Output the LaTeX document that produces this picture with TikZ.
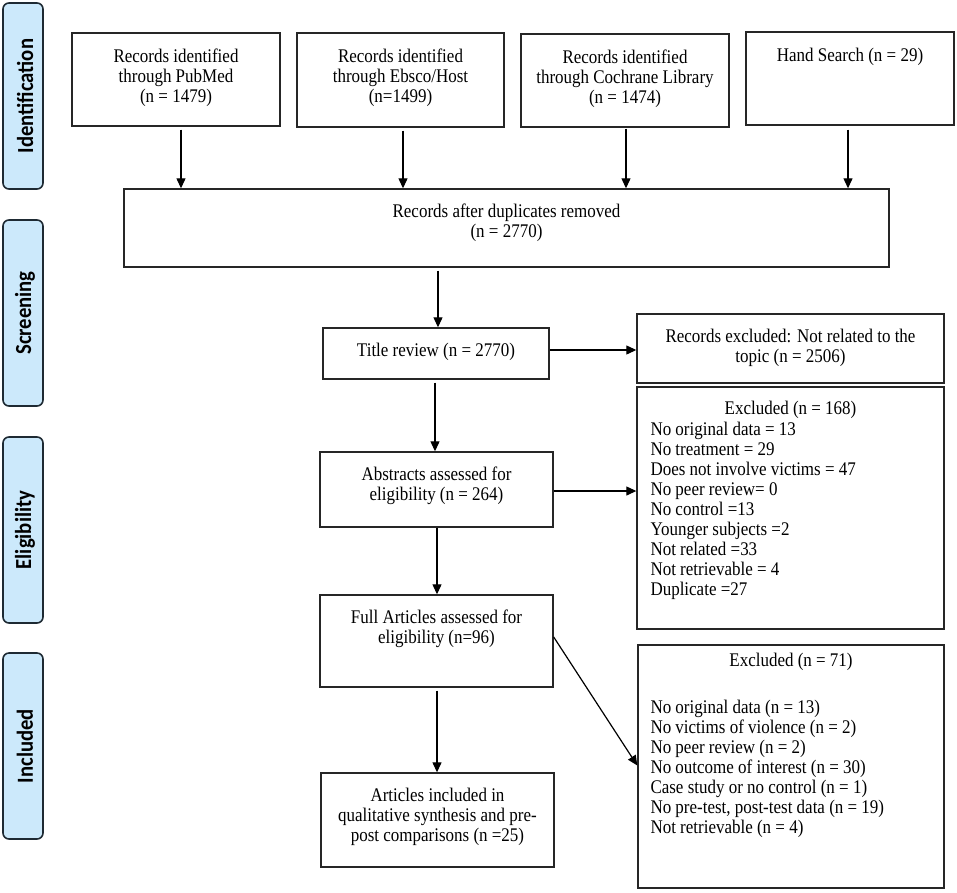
\documentclass[tikz,border=0pt]{standalone}
\usepackage{fontspec}
\setmainfont{Liberation Serif}
\newfontfamily\reffont[FakeStretch=0.88]{Liberation Serif}
\newfontfamily\sidefont[FakeStretch=0.9]{Carlito}
\usetikzlibrary{arrows.meta}
\definecolor{sideblue}{HTML}{CCE9FB}
\definecolor{sideedge}{HTML}{1E2A33}
\tikzset{
  box/.style={draw=black!85, line width=1.4pt, inner sep=0pt},
  txt/.style={inner sep=0pt, align=center, font=\reffont\fontsize{19.3}{20}\selectfont},
  ltxt/.style={inner sep=0pt, align=left, font=\reffont\fontsize{19.3}{20}\selectfont},
  side/.style={draw=sideedge, fill=sideblue, line width=1.6pt, rounded corners=6pt,
    minimum width=40pt, minimum height=186pt, inner sep=0pt},
  sidetxt/.style={rotate=90, inner sep=0pt, font=\sidefont\bfseries\fontsize{23}{26}\selectfont},
  arr/.style={line width=1.2pt, -{Triangle[width=9pt,length=10pt]}}
}
\begin{document}
\begin{tikzpicture}[x=1pt,y=-1pt]
\useasboundingbox (0,0) rectangle (957,892);
% side labels
\node[side] (sid) at (23,96) {};
\node[sidetxt] (sidt) at ([xshift=2pt]sid.center) {Identification};
\node[side] (sscr) at (23,313) {};
\node[sidetxt] (sscrt) at ([xshift=2pt]sscr.center) {Screening};
\node[side] (selg) at (23,530) {};
\node[sidetxt] (selgt) at ([xshift=2pt]selg.center) {Eligibility};
\node[side] (sinc) at (23,746) {};
\node[sidetxt] (sinct) at ([xshift=2pt]sinc.center) {Included};
% identification boxes
\node[box, minimum width=208pt, minimum height=93pt] (pub) at (176,79.5) {};
\node[txt, anchor=north] (pubt) at ([yshift=-16pt]pub.north) {Records identified\\through PubMed\\(n = 1479)};
\node[box, minimum width=207pt, minimum height=94pt] (ebs) at (400.5,80) {};
\node[txt, anchor=north] (ebst) at ([yshift=-16pt]ebs.north) {Records identified\\through Ebsco/Host\\(n=1499)};
\node[box, minimum width=208pt, minimum height=93pt] (coc) at (625,80.5) {};
\node[txt, anchor=north] (coct) at ([yshift=-16pt]coc.north) {Records identified\\through Cochrane Library\\(n = 1474)};
\node[box, minimum width=208pt, minimum height=93pt] (hand) at (850,78.5) {};
\node[txt, anchor=north] (handt) at ([yshift=-17pt]hand.north) {Hand Search (n = 29)};
% duplicates
\node[box, minimum width=765pt, minimum height=78pt] (dup) at (506.5,228) {};
\node[txt, anchor=north] (dupt) at ([yshift=-15pt]dup.north) {Records after duplicates removed\\(n = 2770)};
% screening
\node[box, minimum width=226pt, minimum height=51pt] (title) at (436,353.5) {};
\node[txt] (titlet) at (436,352) {Title review (n = 2770)};
\node[box, minimum width=307pt, minimum height=69pt] (rex) at (790.5,348.5) {};
\node[txt] (rext) at (790.5,348) {Records excluded: Not related to the\\topic (n = 2506)};
% eligibility
\node[box, minimum width=233pt, minimum height=75pt] (abs) at (436.5,489.5) {};
\node[txt, anchor=north] (abst) at ([yshift=-15pt]abs.north) {Abstracts assessed for\\eligibility (n = 264)};
\node[box, minimum width=307pt, minimum height=242pt] (exa) at (790.5,508) {};
\node[txt, anchor=north] (exah) at ([yshift=-15pt]exa.north) {Excluded (n = 168)};
\node[ltxt, anchor=north west] (exal) at ([xshift=14pt,yshift=-36pt]exa.north west) {No original data = 13\\No treatment = 29\\Does not involve victims = 47\\No peer review= 0\\No control =13\\Younger subjects =2\\Not related =33\\Not retrievable = 4\\Duplicate =27};
\node[box, minimum width=233pt, minimum height=92pt] (full) at (436.5,641) {};
\node[txt, anchor=north] (fullt) at ([yshift=-15pt]full.north) {Full Articles assessed for\\eligibility (n=96)};
% included
\node[box, minimum width=233pt, minimum height=94pt] (art) at (437.5,820) {};
\node[txt, anchor=north] (artt) at ([yshift=-16pt]art.north) {Articles included in\\qualitative synthesis and pre-\\post comparisons (n =25)};
\node[box, minimum width=306pt, minimum height=243pt] (exb) at (791,766.5) {};
\node[txt, anchor=north] (exbh) at ([yshift=-9pt]exb.north) {Excluded (n = 71)};
\node[ltxt, anchor=north west] (exbl) at ([xshift=13pt,yshift=-56pt]exb.north west) {No original data (n = 13)\\No victims of violence (n = 2)\\No peer review (n = 2)\\No outcome of interest (n = 30)\\Case study or no control (n = 1)\\No pre-test, post-test data (n = 19)\\Not retrievable (n = 4)};
% connectors
\draw[arr] ([xshift=5pt,yshift=-3pt]pub.south) -- ([xshift=5pt]pub.south |- dup.north);
\draw[arr] ([xshift=2.5pt,yshift=-3pt]ebs.south) -- ([xshift=2.5pt]ebs.south |- dup.north);
\draw[arr] ([xshift=1pt,yshift=-1pt]coc.south) -- ([xshift=1pt]coc.south |- dup.north);
\draw[arr] ([xshift=-2pt,yshift=-4pt]hand.south) -- ([xshift=-2pt]hand.south |- dup.north);
\draw[arr] ([xshift=2pt,yshift=-3pt]title.north |- dup.south) -- ([xshift=2pt]title.north);
\draw[arr] ([yshift=3.5pt]title.east) -- ([yshift=3.5pt]title.east -| rex.west);
\draw[arr] ([xshift=-1pt,yshift=-3pt]title.south) -- ([xshift=-1pt]title.south |- abs.north);
\draw[arr] ([yshift=-1.5pt]abs.east) -- ([yshift=-1.5pt]abs.east -| exa.west);
\draw[arr] ([xshift=0.5pt]abs.south) -- ([xshift=0.5pt]abs.south |- full.north);
\draw[arr] ([xshift=0.5pt,yshift=-3pt]full.south) -- ([xshift=0.5pt]full.south |- art.north);
\draw[arr] ([yshift=4pt]full.east) -- ([yshift=1pt]exb.west);
\end{tikzpicture}
\end{document}
